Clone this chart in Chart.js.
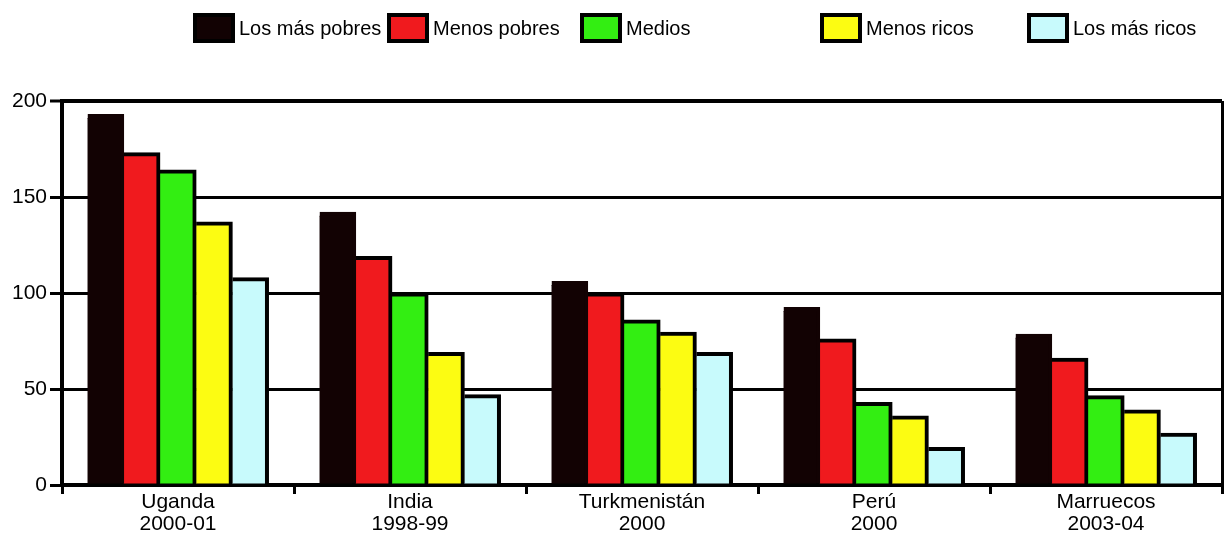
<!DOCTYPE html>
<html>
<head>
<meta charset="utf-8">
<script src="https://cdn.jsdelivr.net/npm/chart.js@4/dist/chart.umd.min.js"></script>
<style>
  html, body { margin: 0; padding: 0; background: #fff; }
  #wrap { width: 1226px; height: 535px; position: relative; }
</style>
</head>
<body>
<div id="wrap"><canvas id="c" width="1226" height="535"></canvas></div>
<script>
// Countries and survey years
const categories = [
  ['Uganda', '2000-01'],
  ['India', '1998-99'],
  ['Turkmenistán', '2000'],
  ['Perú', '2000'],
  ['Marruecos', '2003-04']
];

// Quintile series names
const seriesNames = ['Los más pobres', 'Menos pobres', 'Medios', 'Menos ricos', 'Los más ricos'];

// Values per quintile, one per country
const losMasPobres = [193, 142, 106, 92.5, 78.5];
const menosPobres  = [173, 119, 100, 76, 66];
const medios       = [164, 100, 86, 43, 46.5];
const menosRicos   = [137, 69, 79.5, 36, 39];
const losMasRicos  = [108, 47, 69, 19.5, 27];

// Y axis ticks
const yTicks = [0, 50, 100, 150, 200];

const seriesValues = [losMasPobres, menosPobres, medios, menosRicos, losMasRicos];
const seriesColors = ['#120203', '#f01a1e', '#33ee12', '#fcfc12', '#c8fafc'];

const FONT = '"Liberation Sans", Arial, Helvetica, sans-serif';

// Legend drawn across the top with its own spacing
const topLegend = {
  id: 'topLegend',
  afterDraw(chart) {
    const ctx = chart.ctx;
    const boxX = [193, 387, 580, 820, 1027];
    const boxY = 13, boxW = 42, boxH = 30, bw = 4;
    ctx.save();
    ctx.font = '20px ' + FONT;
    ctx.textBaseline = 'middle';
    ctx.textAlign = 'left';
    seriesNames.forEach((name, i) => {
      const x = boxX[i];
      ctx.fillStyle = '#000';
      ctx.fillRect(x, boxY, boxW, boxH);
      ctx.fillStyle = seriesColors[i];
      ctx.fillRect(x + bw, boxY + bw, boxW - 2 * bw, boxH - 2 * bw);
      ctx.fillStyle = '#000';
      ctx.fillText(name, x + boxW + 4, boxY + boxH / 2 + 1);
    });
    ctx.restore();
  }
};

const datasets = seriesNames.map((name, i) => ({
  label: name,
  data: seriesValues[i],
  backgroundColor: seriesColors[i],
  borderColor: i === 0 ? seriesColors[0] : '#000',
  borderWidth: { top: 4, right: 4, left: 0, bottom: 0 },
  borderSkipped: false,
  inflateAmount: 0.5,
  categoryPercentage: 0.78,
  barPercentage: 1.0
}));

new Chart(document.getElementById('c'), {
  type: 'bar',
  data: { labels: categories, datasets },
  plugins: [topLegend],
  options: {
    responsive: false,
    animation: false,
    devicePixelRatio: 1,
    layout: { padding: { left: 0, right: 4, top: 101, bottom: 0 } },
    plugins: {
      legend: { display: false },
      tooltip: { enabled: false }
    },
    scales: {
      x: {
        type: 'category',
        offset: true,
        afterFit(scale) { scale.height = 50; },
        grid: {
          offset: true,
          drawOnChartArea: true,
          drawTicks: true,
          tickLength: 9,
          lineWidth: 3,
          tickWidth: 3,
          tickColor: '#000',
          color: (c) => (c.type === 'tick' ? 'rgba(0,0,0,0)' : '#000')
        },
        border: { display: true, color: '#000', width: 4 },
        ticks: {
          color: '#000',
          font: { family: FONT, size: 21, lineHeight: 1.05 },
          padding: -3,
          maxRotation: 0,
          autoSkip: false
        }
      },
      y: {
        min: 0,
        max: 200,
        afterFit(scale) { scale.width = 62; },
        afterBuildTicks(scale) { scale.ticks = yTicks.map(v => ({ value: v })); },
        grid: {
          color: '#000',
          lineWidth: (c) => (c.tick && c.tick.value === 200 ? 4 : 3),
          drawTicks: true,
          tickLength: 12,
          tickWidth: 3,
          tickColor: '#000'
        },
        border: { display: true, color: '#000', width: 4 },
        ticks: {
          color: '#000',
          font: { family: FONT, size: 21 },
          padding: 3
        }
      }
    }
  }
});
</script>
</body>
</html>
